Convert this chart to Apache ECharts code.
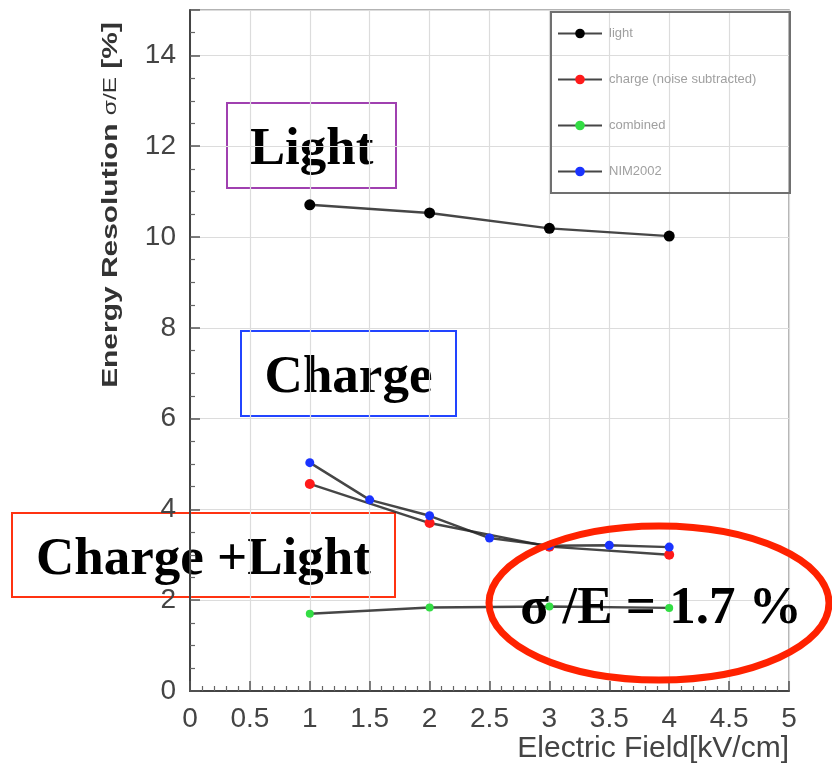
<!DOCTYPE html>
<html>
<head>
<meta charset="utf-8">
<script src="https://cdn.jsdelivr.net/npm/echarts@6/dist/echarts.min.js"></script>
<style>
  html, body { margin: 0; padding: 0; background: #fff; }
  #chart { width: 832px; height: 772px; }
</style>
</head>
<body>
<div id="chart"></div>
<script>
// Energy resolution versus drift field
const seriesNames = ['light', 'charge (noise subtracted)', 'combined', 'NIM2002'];

const lightField = [1, 2, 3, 4];
const lightRes = [10.71, 10.53, 10.19, 10.02];

const chargeField = [1, 2, 3, 4];
const chargeRes = [4.56, 3.70, 3.18, 3.00];

const combinedField = [1, 2, 3, 4];
const combinedRes = [1.7, 1.84, 1.86, 1.83];

const nimField = [1, 1.5, 2, 2.5, 3, 3.5, 4];
const nimRes = [5.03, 4.21, 3.86, 3.37, 3.20, 3.21, 3.17];

const xTicks = { min: 0, max: 5, step: 0.5 };
const yTicks = { min: 0, max: 15, step: 2 };

const pairs = (xs, ys) => xs.map((x, i) => [x, ys[i]]);

const chart = echarts.init(document.getElementById('chart'), null, { renderer: 'canvas' });

const serif = '"Liberation Serif", "DejaVu Serif", serif';
const sans = '"Liberation Sans", Arial, sans-serif';

function lineSeries(name, data, color, size) {
  return {
    name: name,
    type: 'line',
    data: data,
    symbol: 'circle',
    symbolSize: size,
    showSymbol: true,
    lineStyle: { color: '#262626', width: 2.4, opacity: 0.85 },
    itemStyle: { color: color },
    z: 3
  };
}

function labelBox(x, y, w, h, text, border) {
  return {
    type: 'group',
    x: x, y: y, z: 100,
    children: [
      { type: 'rect', shape: { x: 0, y: 0, width: w, height: h },
        style: { fill: '#fff', stroke: border, lineWidth: 2 } },
      { type: 'text', x: w / 2, y: h / 2 + 5,
        style: { text: text, font: 'bold 53px ' + serif, fill: '#000',
                 align: 'center', verticalAlign: 'middle' } }
    ]
  };
}

const option = {
  backgroundColor: '#fff',
  animation: false,
  grid: {
    left: 190, right: 43, top: 10, bottom: 81,
    show: true, borderColor: '#9a9a9a', borderWidth: 1.5
  },
  legend: {
    data: seriesNames,
    orient: 'vertical',
    left: 557, top: 27,
    padding: 0,
    itemGap: 33,
    itemWidth: 44, itemHeight: 12,
    textStyle: { fontSize: 13, color: '#a0a0a0', fontFamily: sans, padding: [0, 0, 0, 2] }
  },
  xAxis: {
    type: 'value',
    min: xTicks.min, max: xTicks.max, interval: xTicks.step,
    axisLine: { show: true, onZero: false, lineStyle: { color: '#444', width: 2 } },
    axisTick: { show: true, inside: true, length: 10, lineStyle: { color: '#555', width: 1.5 } },
    minorTick: { show: true, splitNumber: 5, length: 5, lineStyle: { color: '#666', width: 1.2 } },
    axisLabel: { fontSize: 28, color: '#444', fontFamily: sans, margin: 14 },
    splitLine: { show: true, lineStyle: { color: '#dcdcdc', width: 1.2 } }
  },
  yAxis: {
    type: 'value',
    min: yTicks.min, max: yTicks.max, interval: yTicks.step,
    axisLine: { show: true, onZero: false, lineStyle: { color: '#444', width: 2 } },
    axisTick: { show: true, inside: true, length: 10, lineStyle: { color: '#555', width: 1.5 } },
    minorTick: { show: true, splitNumber: 4, length: 5, lineStyle: { color: '#666', width: 1.2 } },
    axisLabel: { fontSize: 28, color: '#444', fontFamily: sans, margin: 14, showMaxLabel: false },
    splitLine: { show: true, lineStyle: { color: '#dcdcdc', width: 1.2 } }
  },
  series: [
    lineSeries(seriesNames[0], pairs(lightField, lightRes), '#000000', 11),
    lineSeries(seriesNames[1], pairs(chargeField, chargeRes), '#ff1a1a', 10),
    lineSeries(seriesNames[2], pairs(combinedField, combinedRes), '#33dd44', 8),
    lineSeries(seriesNames[3], pairs(nimField, nimRes), '#1a33ff', 9)
  ],
  graphic: [
    // legend frame
    { type: 'rect', z: 50, shape: { x: 551, y: 12, width: 239, height: 181 },
      style: { fill: 'none', stroke: '#707070', lineWidth: 2 } },
    // axis titles
    { type: 'text', x: 111, y: 205, rotation: Math.PI / 2, scaleX: 1.36, z: 50,
      style: {
        text: '{b|Energy Resolution }{s|σ/E}{b| [%]}',
        align: 'center', verticalAlign: 'middle',
        rich: {
          b: { font: 'bold 22px ' + sans, fill: '#333' },
          s: { font: '18px ' + sans, fill: '#333' }
        }
      } },
    { type: 'text', x: 789, y: 749, z: 50,
      style: { text: 'Electric Field[kV/cm]', font: '30px ' + sans, fill: '#444',
               align: 'right', verticalAlign: 'middle' } },
    // annotations
    labelBox(227, 103, 169, 85, 'Light', '#a040b0'),
    labelBox(241, 331, 215, 85, 'Charge', '#2244ff'),
    labelBox(12, 513, 383, 84, 'Charge +Light', '#ff3311'),
    { type: 'ellipse', z: 100, shape: { cx: 659, cy: 603, rx: 170, ry: 77 },
      style: { fill: 'none', stroke: '#ff2200', lineWidth: 7 } },
    { type: 'text', x: 661, y: 609, z: 101,
      style: { text: 'σ /E = 1.7 %', font: 'bold 53px ' + serif, fill: '#000',
               align: 'center', verticalAlign: 'middle' } }
  ]
};

chart.setOption(option);
</script>
</body>
</html>
